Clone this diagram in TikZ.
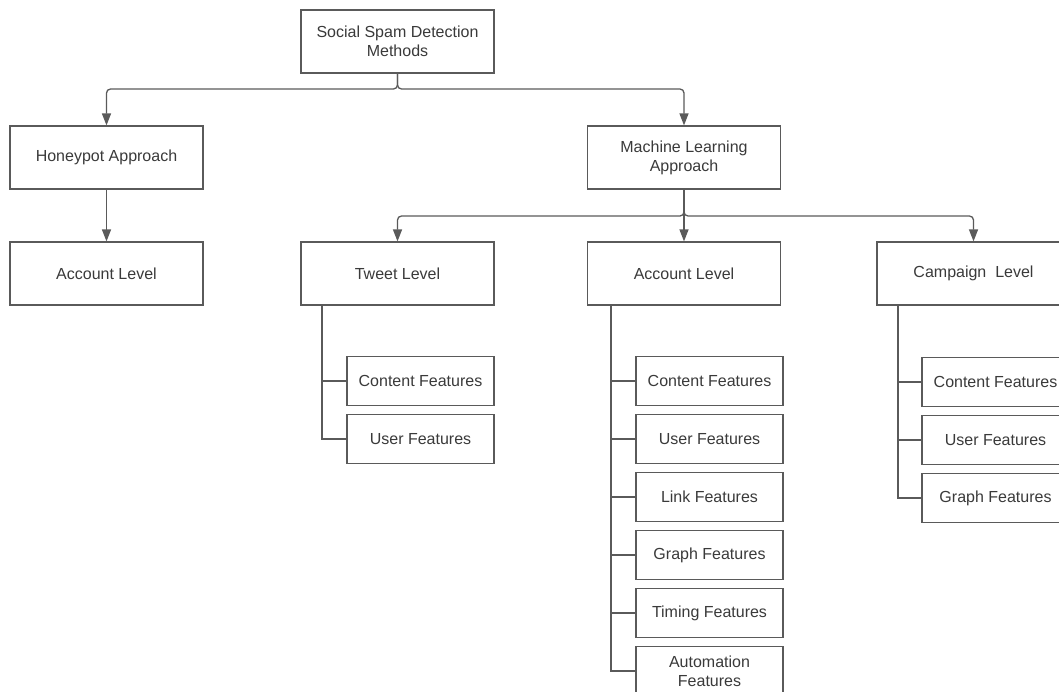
\documentclass[tikz,border=0pt]{standalone}
\usepackage{fontspec}
\setmainfont{Liberation Sans}
\usetikzlibrary{arrows.meta}
\definecolor{linec}{HTML}{5a5a5a}
\definecolor{textc}{HTML}{3a3a3a}
\tikzset{
  box/.style={draw=linec, line width=1.2pt, fill=white, text=textc, minimum width=193pt, minimum height=63pt, inner sep=0pt, align=center, font=\fontsize{16}{19}\selectfont},
  feat/.style={box, minimum width=147pt, minimum height=49pt},
  conn/.style={draw=linec, line width=1.3pt, rounded corners=4pt},
  arr/.style={conn, -{Triangle[length=12pt,width=9pt]}},
}
\begin{document}
\begin{tikzpicture}[x=1pt,y=-1pt]
\useasboundingbox (0,0) rectangle (1059,691);
\begin{scope}
\clip (0,0) rectangle (1059,691);
% nodes
\node[box] (root) at (397.5,41.5) {Social Spam Detection\\Methods};
\node[box] (hp) at (106.5,157.5) {Honeypot Approach};
\node[box] (ml) at (684,157.5) {Machine Learning\\Approach};
\node[box] (al) at (106.5,273.5) {Account Level};
\node[box] (tl) at (397.5,273.5) {Tweet Level};
\node[box] (am) at (684,273.5) {Account Level};
\node[box] (cl) at (973.5,273.5) {Campaign~~Level};
% tweet features
\node[feat] (t1) at (420.5,381) {Content Features};
\node[feat] (t2) at (420.5,439) {User Features};
% account features
\node[feat] (a1) at (709.5,381) {Content Features};
\node[feat] (a2) at (709.5,439) {User Features};
\node[feat] (a3) at (709.5,497) {Link Features};
\node[feat] (a4) at (709.5,555) {Graph Features};
\node[feat] (a5) at (709.5,613) {Timing Features};
\node[feat] (a6) at (709.5,671) {Automation\\Features};
% campaign features
\node[feat] (c1) at (995.5,382) {Content Features};
\node[feat] (c2) at (995.5,440) {User Features};
\node[feat] (c3) at (995.5,498) {Graph Features};
\end{scope}
% coordinates
\coordinate (j1) at (397.5,89);
\coordinate (j2) at (684,216);
\coordinate (ts) at (322,305);
\coordinate (as) at (611,305);
\coordinate (cs) at (898,305);
% level 1 connectors
\draw[arr] (root.south) -- (j1) -| (hp.north);
\draw[arr] (root.south) -- (j1) -| (ml.north);
% honeypot to account level
\draw[arr] (hp.south) -- (al.north);
% level 2 connectors
\draw[arr] (ml.south) -- (j2) -| (tl.north);
\draw[arr] (ml.south) -- (am.north);
\draw[arr] (ml.south) -- (j2) -| (cl.north);
% tweet spine
\draw[conn, rounded corners=0pt] (ts) |- (t2.west);
\draw[conn, rounded corners=0pt] (t1.west) -- (t1.west -| ts);
% account spine
\draw[conn, rounded corners=0pt] (as) |- (a6.west);
\foreach \n in {a1,a2,a3,a4,a5}
  \draw[conn, rounded corners=0pt] (\n.west) -- (\n.west -| as);
% campaign spine
\draw[conn, rounded corners=0pt] (cs) |- (c3.west);
\foreach \n in {c1,c2}
  \draw[conn, rounded corners=0pt] (\n.west) -- (\n.west -| cs);
\end{tikzpicture}
\end{document}
